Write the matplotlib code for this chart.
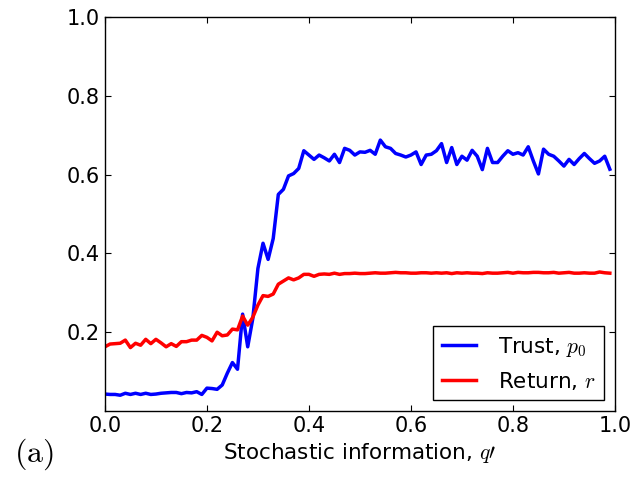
import numpy as np
import matplotlib
matplotlib.use('Agg')
import matplotlib.pyplot as plt

plt.rcParams['mathtext.fontset'] = 'cm'
plt.rcParams['font.family'] = 'DejaVu Sans'

# Stochastic information q' on a 0.01 grid
q = np.arange(100) * 0.01

# Trust p0 (blue)
trust = [
    0.043, 0.042, 0.042, 0.040, 0.045, 0.042, 0.045, 0.042, 0.045, 0.042,
    0.043, 0.045, 0.046, 0.047, 0.047, 0.044, 0.047, 0.046, 0.049, 0.042,
    0.058, 0.057, 0.055, 0.066, 0.096, 0.123, 0.106, 0.246, 0.163, 0.235,
    0.362, 0.426, 0.385, 0.438, 0.550, 0.563, 0.597, 0.603, 0.616, 0.661,
    0.650, 0.639, 0.650, 0.643, 0.635, 0.652, 0.631, 0.667, 0.662, 0.650,
    0.658, 0.657, 0.662, 0.652, 0.688, 0.671, 0.667, 0.654, 0.650, 0.645,
    0.650, 0.658, 0.626, 0.650, 0.652, 0.661, 0.679, 0.631, 0.669, 0.626,
    0.647, 0.637, 0.662, 0.647, 0.613, 0.667, 0.631, 0.631, 0.647, 0.661,
    0.652, 0.656, 0.650, 0.671, 0.635, 0.602, 0.665, 0.652, 0.647, 0.635,
    0.622, 0.639, 0.626, 0.641, 0.654, 0.641, 0.629, 0.635, 0.647, 0.614,
]

# Return r (red)
ret = [
    0.163, 0.170, 0.171, 0.172, 0.180, 0.161, 0.172, 0.167, 0.182, 0.171,
    0.182, 0.173, 0.163, 0.171, 0.164, 0.176, 0.176, 0.180, 0.180, 0.192,
    0.187, 0.178, 0.200, 0.191, 0.193, 0.208, 0.206, 0.241, 0.218, 0.238,
    0.269, 0.293, 0.291, 0.297, 0.322, 0.330, 0.338, 0.333, 0.338, 0.347,
    0.347, 0.342, 0.347, 0.348, 0.347, 0.350, 0.347, 0.349, 0.349, 0.350,
    0.349, 0.349, 0.350, 0.351, 0.350, 0.350, 0.351, 0.352, 0.351, 0.351,
    0.350, 0.350, 0.351, 0.351, 0.350, 0.351, 0.350, 0.351, 0.349, 0.351,
    0.350, 0.351, 0.350, 0.350, 0.349, 0.351, 0.350, 0.350, 0.351, 0.352,
    0.350, 0.352, 0.351, 0.351, 0.352, 0.352, 0.351, 0.351, 0.352, 0.350,
    0.351, 0.352, 0.350, 0.350, 0.351, 0.350, 0.350, 0.353, 0.351, 0.350,
]

fig = plt.figure(figsize=(6.32, 4.79), dpi=100)
ax = fig.add_axes([0.166, 0.142, 0.807, 0.822])

ax.plot(q, trust, color='b', lw=2.5, label=r'Trust, $p_0$')
ax.plot(q, ret, color='r', lw=2.5, label=r'Return, $r$')

ax.set_xlim(0, 1)
ax.set_ylim(0, 1)
ax.set_xticks([0.0, 0.2, 0.4, 0.6, 0.8, 1.0])
ax.set_yticks([0.2, 0.4, 0.6, 0.8, 1.0])
ax.tick_params(direction='in', length=4, top=True, right=True, labelsize=15)
for s in ax.spines.values():
    s.set_linewidth(1.0)

ax.set_xlabel(r"Stochastic information, $q\prime$", fontsize=15.5, labelpad=4)

leg = ax.legend(loc='lower right', fontsize=15.5, fancybox=False,
                framealpha=1, edgecolor='black', handlelength=1.6,
                handletextpad=1.0)
leg.get_frame().set_linewidth(1.0)

fig.text(0.022, 0.035, r'$\mathrm{(a)}$', fontsize=23)

fig.savefig('out.png', dpi=100)
